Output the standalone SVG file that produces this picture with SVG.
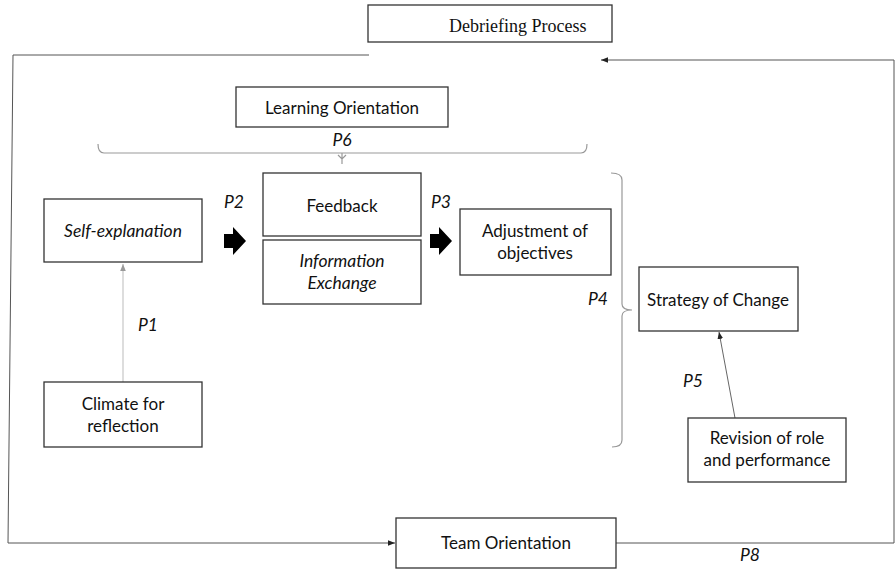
<svg xmlns="http://www.w3.org/2000/svg" width="896" height="570" viewBox="0 0 896 570">
<defs>
<style>
.box{fill:#fff;stroke:#333;stroke-width:1.3}
.t{font-family:Lato,"Open Sans",sans-serif;font-size:17px;fill:#111;text-anchor:middle}
.i{font-style:italic;font-size:17.5px}
.s{font-family:"Liberation Serif",serif;font-size:18px;fill:#111}
.line{fill:none;stroke:#555;stroke-width:1}
.brk{fill:none;stroke:#999;stroke-width:1.2}
</style>
<marker id="ah" viewBox="0 0 10 10" refX="10" refY="5" markerWidth="7" markerHeight="7" orient="auto" markerUnits="userSpaceOnUse"><path d="M0,1 L10,5 L0,9 Z" fill="#222"/></marker>
<marker id="ahg" viewBox="0 0 10 10" refX="10" refY="5" markerWidth="7" markerHeight="7" orient="auto" markerUnits="userSpaceOnUse"><path d="M0,1 L10,5 L0,9 Z" fill="#999"/></marker>
<path id="blk" d="M0,-7 L9,-7 L9,-14 L22,0 L9,14 L9,7 L0,7 Z" fill="#000"/>
</defs>
<g id="connectors">
<path class="line" d="M369,55 L13,55 L8,543 L395,543" marker-end="url(#ah)"/>
<path class="line" d="M616,543 L894,543 L894,60 L601,60" marker-end="url(#ah)"/>
<path d="M123,382 L123,264" fill="none" stroke="#bbb" stroke-width="1" marker-end="url(#ahg)"/>
<path d="M735,418 L719,332" fill="none" stroke="#666" stroke-width="1" marker-end="url(#ah)"/>
<path class="brk" d="M98,144 Q98,153 104,153 L581,153 Q587,153 587,144"/>
<path class="brk" d="M342,153 L342,164 M338,155 L342,159 L346,155"/>
<path class="brk" d="M611,173 Q622,173 622,180 L622,304 Q622,310 632,310 Q622,310 622,316 L622,440 Q622,447 612,447"/>
<use href="#blk" x="224" y="241"/>
<use href="#blk" x="430" y="241"/>
<text class="t i" x="342" y="146">P6</text>
<text class="t i" x="234" y="208">P2</text>
<text class="t i" x="441" y="208">P3</text>
<text class="t i" x="598" y="305">P4</text>
<text class="t i" x="148" y="331">P1</text>
<text class="t i" x="693" y="387">P5</text>
<text class="t i" x="750" y="561">P8</text>
</g>
<g id="debriefing">
<rect class="box" x="368" y="5" width="244" height="37"/>
<text class="s" x="449" y="32">Debriefing Process</text>
</g>
<g id="learning">
<rect class="box" x="236" y="87" width="212" height="40"/>
<text class="t" x="342" y="114">Learning Orientation</text>
</g>
<g id="self">
<rect class="box" x="44" y="199" width="158" height="63"/>
<text class="t i" x="123" y="237">Self-explanation</text>
</g>
<g id="feedback">
<rect class="box" x="263" y="173" width="158" height="63"/>
<text class="t" x="342" y="212">Feedback</text>
</g>
<g id="info">
<rect class="box" x="263" y="240" width="158" height="64"/>
<text class="t i" x="342" y="267">Information</text>
<text class="t i" x="342" y="289">Exchange</text>
</g>
<g id="adjust">
<rect class="box" x="460" y="209" width="151" height="66"/>
<text class="t" x="535" y="237">Adjustment of</text>
<text class="t" x="535" y="259">objectives</text>
</g>
<g id="strategy">
<rect class="box" x="639" y="267" width="159" height="64"/>
<text class="t" x="718" y="306">Strategy of Change</text>
</g>
<g id="revision">
<rect class="box" x="688" y="418" width="158" height="64"/>
<text class="t" x="767" y="444">Revision of role</text>
<text class="t" x="767" y="466">and performance</text>
</g>
<g id="climate">
<rect class="box" x="44" y="382" width="158" height="65"/>
<text class="t" x="123" y="410">Climate for</text>
<text class="t" x="123" y="432">reflection</text>
</g>
<g id="team">
<rect class="box" x="396" y="518" width="220" height="50"/>
<text class="t" x="506" y="549">Team Orientation</text>
</g>
</svg>
